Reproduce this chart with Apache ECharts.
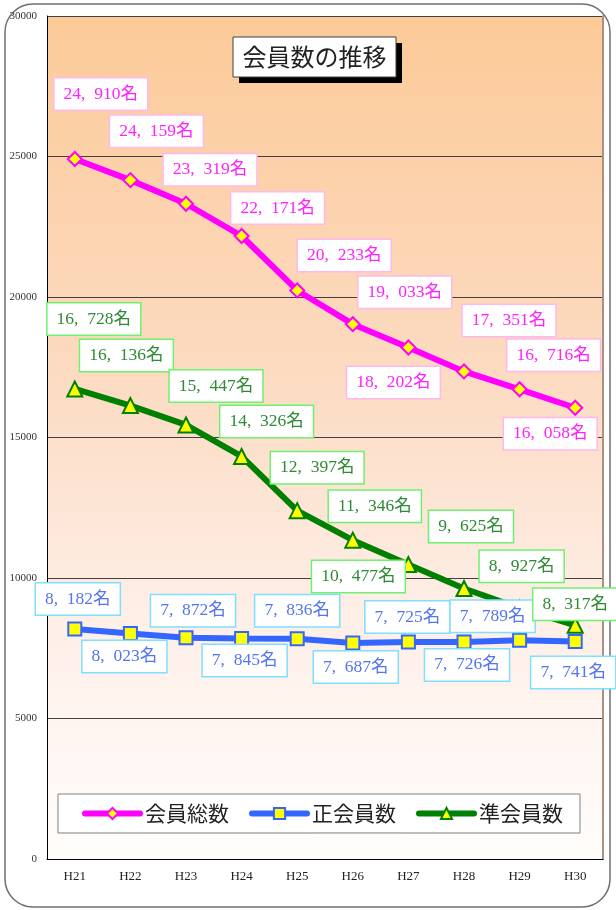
<!DOCTYPE html>
<html>
<head>
<meta charset="utf-8">
<script src="https://cdn.jsdelivr.net/npm/echarts@6/dist/echarts.min.js"></script>
<style>
html,body{margin:0;padding:0;background:#fff;}
#c{width:616px;height:910px;}
</style>
</head>
<body>
<div id="c"></div>
<script>
// ---- data ----
const categories = ['H21','H22','H23','H24','H25','H26','H27','H28','H29','H30'];
const totalMembers = [24910, 24159, 23319, 22171, 20233, 19033, 18202, 17351, 16716, 16058];
const regularMembers = [8182, 8023, 7872, 7845, 7836, 7687, 7725, 7726, 7789, 7741];
const associateMembers = [16728, 16136, 15447, 14326, 12397, 11346, 10477, 9625, 8927, 8317];
const seriesNames = ['会員総数', '正会員数', '準会員数'];
const yTicks = { min: 0, max: 30000, interval: 5000 };
const titleText = '会員数の推移';

// ---- label placement (layout, px offsets from each point) ----
const totalOffsets = [[26,-65],[26,-49],[24,-34],[36,-28],[47,-35],[52,-32],[-15,35],[45,-51],[34,-34],[-25,26]];
const regularOffsets = [[3,-30],[-6,23],[7,-27],[3,22],[0,-28],[3,24],[-1,-25],[3,23],[-27,-24],[-2,31]];
const associateOffsets = [[19,-70],[-4,-50],[30,-39],[25,-35],[20,-43],[22,-34],[-50,12],[7,-62],[2,-42],[0,-21]];

const serif = "'Liberation Serif','Noto Sans CJK JP',serif";
const fmt = v => {
  const s = String(v);
  return s.slice(0, s.length - 3) + ',\u2002' + s.slice(s.length - 3) + '名';
};

function mkData(values, offsets, textColor, borderColor) {
  return values.map((v, i) => ({
    value: v,
    label: {
      show: true,
      position: 'inside',
      offset: offsets[i],
      formatter: fmt(v),
      color: textColor,
      fontFamily: serif,
      fontSize: 17.5,
      lineHeight: 20,
      backgroundColor: '#ffffff',
      borderColor: borderColor,
      borderWidth: 1.5,
      padding: [6, 9, 5, 9]
    }
  }));
}

const chart = echarts.init(document.getElementById('c'), null, { renderer: 'canvas' });

const legendLine = (name, color) => ({
  name: name,
  lineStyle: { width: 6, color: color, cap: 'round' }
});

const option = {
  animation: false,
  backgroundColor: '#ffffff',
  grid: {
    left: 47, right: 13, top: 16, bottom: 51,
    show: true, borderWidth: 0,
    backgroundColor: {
      type: 'linear', x: 0, y: 0, x2: 0, y2: 1,
      colorStops: [
        { offset: 0, color: '#FCCA98' },
        { offset: 0.45, color: '#FCDCC4' },
        { offset: 0.7, color: '#FEEEE6' },
        { offset: 1, color: '#FFFDFB' }
      ]
    }
  },
  legend: {
    data: [
      legendLine(seriesNames[0], '#FF00FF'),
      legendLine(seriesNames[1], '#3366FF'),
      legendLine(seriesNames[2], '#008000')
    ],
    left: 58, top: 794,
    backgroundColor: '#ffffff',
    borderColor: '#808080',
    borderWidth: 1,
    borderRadius: 0,
    padding: [9, 17, 9, 24],
    itemWidth: 55,
    itemHeight: 14,
    itemGap: 20,
    textStyle: { fontSize: 21, color: '#222', fontFamily: "'Noto Sans CJK JP',sans-serif" }
  },
  xAxis: {
    type: 'category',
    data: categories,
    boundaryGap: true,
    axisLine: { lineStyle: { color: '#000', width: 1 } },
    axisTick: { inside: true, length: 6, lineStyle: { color: '#000' } },
    axisLabel: { margin: 11, fontSize: 13, color: '#222', fontFamily: serif },
    splitLine: { show: false }
  },
  yAxis: [{
    type: 'value',
    min: yTicks.min, max: yTicks.max, interval: yTicks.interval,
    axisLine: { show: true, lineStyle: { color: '#000', width: 1 } },
    axisTick: { show: false },
    axisLabel: { margin: 10, fontSize: 11, color: '#333', fontFamily: serif, formatter: v => String(v) },
    splitLine: { show: true, lineStyle: { color: '#404040', width: 1 } }
  }, {
    type: 'value', position: 'right',
    min: yTicks.min, max: yTicks.max, interval: yTicks.interval,
    axisLine: { show: true, lineStyle: { color: '#A89282', width: 2 } },
    axisTick: { show: false }, axisLabel: { show: false }, splitLine: { show: false }
  }],
  series: [
    {
      name: seriesNames[0], type: 'line', z: 4,
      data: mkData(totalMembers, totalOffsets, '#FF22FF', '#FFB8EC'),
      lineStyle: { color: '#FF00FF', width: 6 },
      itemStyle: { color: '#FFFF00', borderColor: '#FF00FF', borderWidth: 2 },
      symbol: 'diamond', symbolSize: 14
    },
    {
      name: seriesNames[1], type: 'line', z: 3,
      data: mkData(regularMembers, regularOffsets, '#5575F0', '#7FDFFF'),
      lineStyle: { color: '#3366FF', width: 6 },
      itemStyle: { color: '#FFFF00', borderColor: '#3366FF', borderWidth: 2 },
      symbol: 'rect', symbolSize: 13
    },
    {
      name: seriesNames[2], type: 'line', z: 3,
      data: mkData(associateMembers, associateOffsets, '#2F8A36', '#70F070'),
      lineStyle: { color: '#008000', width: 6 },
      itemStyle: { color: '#FFFF00', borderColor: '#008000', borderWidth: 2 },
      symbol: 'triangle', symbolSize: 15
    }
  ],
  graphic: [
    {
      type: 'rect', z: 0, silent: true,
      shape: { x: 5, y: 4, width: 605, height: 903, r: 28 },
      style: { fill: 'none', stroke: '#707070', lineWidth: 1.5 }
    },
    {
      type: 'rect', z: 100, silent: true,
      shape: { x: 239, y: 43, width: 163, height: 40 },
      style: { fill: '#000' }
    },
    {
      type: 'rect', z: 101, silent: true,
      shape: { x: 233, y: 37, width: 163, height: 40 },
      style: { fill: '#fff', stroke: '#404040', lineWidth: 1 }
    },
    {
      type: 'text', z: 102, silent: true,
      x: 314.5, y: 57,
      style: {
        text: titleText, fill: '#222', fontSize: 24,
        fontFamily: "'Noto Sans CJK JP',sans-serif",
        align: 'center', verticalAlign: 'middle'
      }
    }
  ]
};
chart.setOption(option);
</script>
</body>
</html>
